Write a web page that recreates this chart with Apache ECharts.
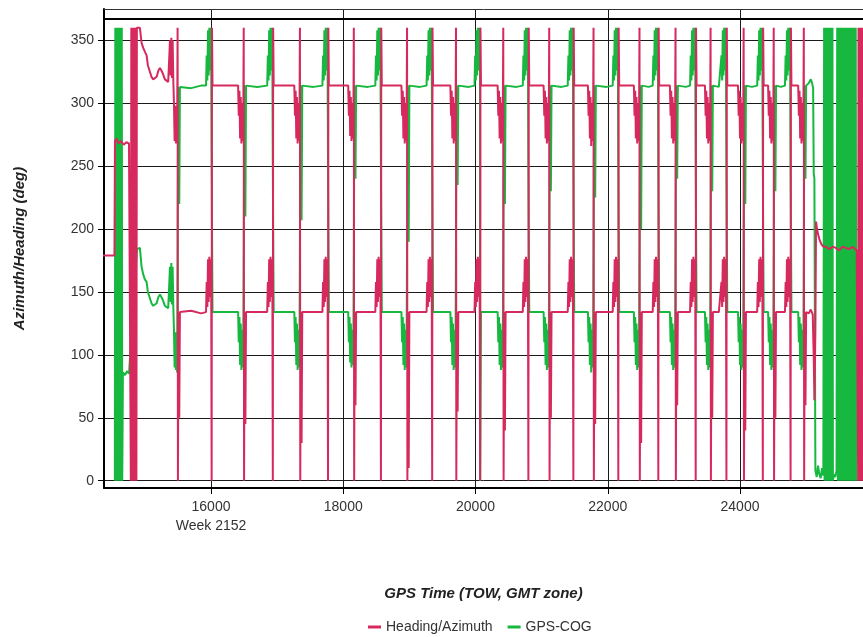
<!DOCTYPE html>
<html>
<head>
<meta charset="utf-8">
<script src="https://cdn.jsdelivr.net/npm/echarts@6.0.0/dist/echarts.min.js"></script>
<style>
html,body{margin:0;padding:0;background:#fff;}
#chart{width:863px;height:637px;}
</style>
</head>
<body>
<div id="chart"></div>
<script>
// ---- tick labels ----
const xTickValues = [16000, 18000, 20000, 22000, 24000];
const xTickLabels = ['16000\nWeek 2152', '18000', '20000', '22000', '24000'];
const yTickValues = [0, 50, 100, 150, 200, 250, 300, 350];
const seriesNames = ['Heading/Azimuth', 'GPS-COG'];

// ---- Heading/Azimuth [GPS TOW s, deg] ----
const headingData = [
[14364,179],[14540,179],[14548,270],[14570,272],[14600,268],[14640,270],[14680,267],[14720,269],[14760,268],[14782,268],
[14788,0],[14795,360],[14802,0],[14809,360],[14816,0],[14823,360],[14830,0],[14837,360],[14844,0],[14851,360],[14858,0],[14865,360],[14872,0],[14879,360],
[14925,360],[14950,348],[14975,344],[15000,341],[15026,338],[15046,330],[15076,325],[15100,321],[15126,319],[15150,318],[15178,321],[15205,326],[15228,328],[15250,326],[15269,324],[15303,319],[15330,318],[15353,317],
[15380,350],[15390,322],[15400,352],[15410,320],[15420,350],[15430,318],[15440,300],[15450,270],[15460,298],[15470,268],[15480,290],[15488,275],[15495,360],[15500,0],[15508,134],[15520,50],[15530,134],[15700,135],[15850,133],
[15925,134],[15935,158],[15945,138],[15955,176],[15965,142],[15975,178],[15985,146],[15995,176],[16003,160],[16010,0],[16015,360],[16023,314],[16045,315],
[16250,314],
[16410,314],[16420,290],[16430,310],[16440,272],[16450,305],[16460,268],[16470,300],[16480,270],[16488,285],[16495,360],[16500,0],[16508,134],[16520,45],[16530,134],
[16700,134],
[16850,134],[16860,158],[16870,138],[16880,176],[16890,142],[16900,178],[16910,146],[16920,176],[16928,160],[16935,0],[16940,360],[16948,314],[16970,315],
[17150,314],
[17260,314],[17270,290],[17280,310],[17290,272],[17300,305],[17310,268],[17320,300],[17330,270],[17338,285],[17345,360],[17350,0],[17358,134],[17370,30],[17380,134],
[17550,134],
[17685,134],[17695,158],[17705,138],[17715,176],[17725,142],[17735,178],[17745,146],[17755,176],[17763,160],[17770,0],[17775,360],[17783,314],[17805,315],
[17970,314],
[18075,314],[18085,290],[18095,310],[18105,274],[18115,305],[18125,270],[18135,300],[18145,272],[18153,285],[18160,360],[18165,0],[18173,134],[18185,60],[18195,134],
[18370,134],
[18485,134],[18495,158],[18505,138],[18515,176],[18525,142],[18535,178],[18545,146],[18555,176],[18563,160],[18570,0],[18575,360],[18583,314],[18605,315],
[18770,314],
[18880,314],[18890,290],[18900,310],[18910,272],[18920,305],[18930,268],[18940,300],[18950,270],[18958,285],[18965,360],[18970,0],[18978,134],[18990,10],[19000,134],
[19160,134],
[19260,134],[19270,158],[19280,138],[19290,176],[19300,142],[19310,178],[19320,146],[19330,176],[19338,160],[19345,0],[19350,360],[19358,314],[19380,315],
[19530,314],
[19620,314],[19630,290],[19640,310],[19650,272],[19660,305],[19670,268],[19680,300],[19690,270],[19698,285],[19705,360],[19710,0],[19718,134],[19730,55],[19740,134],
[19900,134],
[19985,134],[19995,158],[20005,138],[20015,176],[20025,142],[20035,178],[20045,146],[20055,176],[20063,160],[20070,0],[20075,360],[20083,314],[20105,315],
[20250,314],
[20335,314],[20345,290],[20355,310],[20365,272],[20375,305],[20385,268],[20395,300],[20405,270],[20413,285],[20420,360],[20425,0],[20433,134],[20445,40],[20455,134],
[20620,134],
[20715,134],[20725,158],[20735,138],[20745,176],[20755,142],[20765,178],[20775,146],[20785,176],[20793,160],[20800,0],[20805,360],[20813,314],[20835,315],
[20960,314],
[21030,314],[21040,290],[21050,310],[21060,272],[21070,305],[21080,268],[21090,300],[21100,270],[21108,285],[21115,360],[21120,0],[21128,134],[21140,50],[21150,134],
[21300,134],
[21395,134],[21405,158],[21415,138],[21425,176],[21435,142],[21445,178],[21455,146],[21465,176],[21473,160],[21480,0],[21485,360],[21493,314],[21515,315],
[21640,314],
[21700,314],[21710,290],[21720,310],[21730,272],[21740,305],[21750,266],[21760,300],[21770,270],[21778,285],[21785,360],[21790,0],[21798,134],[21810,45],[21820,134],
[21980,134],
[22075,134],[22085,158],[22095,138],[22105,176],[22115,142],[22125,178],[22135,146],[22145,176],[22153,160],[22160,0],[22165,360],[22173,314],[22195,315],
[22320,314],
[22395,314],[22405,290],[22415,310],[22425,272],[22435,305],[22445,268],[22455,300],[22465,270],[22473,285],[22480,360],[22485,0],[22493,134],[22505,30],[22515,134],
[22620,134],
[22680,134],[22690,158],[22700,138],[22710,176],[22720,142],[22730,178],[22740,146],[22750,176],[22758,160],[22765,0],[22770,360],[22778,314],[22800,315],
[22900,314],
[22940,314],[22950,290],[22960,310],[22970,272],[22980,305],[22990,268],[23000,300],[23010,270],[23018,285],[23025,360],[23030,0],[23038,134],[23050,60],[23060,134],
[23180,134],
[23245,134],[23255,158],[23265,138],[23275,176],[23285,142],[23295,178],[23305,146],[23315,176],[23323,160],[23330,0],[23335,360],[23343,314],[23365,315],
[23420,314],
[23470,314],[23480,290],[23490,310],[23500,272],[23510,305],[23520,268],[23530,300],[23540,270],[23548,285],[23555,360],[23560,0],[23568,134],[23580,50],[23590,134],
[23680,134],
[23710,134],[23720,158],[23730,138],[23740,176],[23750,142],[23760,178],[23770,146],[23780,176],[23788,160],[23795,0],[23800,360],[23808,314],[23830,315],
[23900,314],
[23970,314],[23980,290],[23990,310],[24000,272],[24010,305],[24020,268],[24030,300],[24040,270],[24048,285],[24055,360],[24060,0],[24068,134],[24080,40],[24090,134],
[24180,134],
[24260,134],[24270,158],[24280,138],[24290,176],[24300,142],[24310,178],[24320,146],[24330,176],[24338,160],[24345,0],[24350,360],[24358,314],[24380,315],
[24425,314],[24435,290],[24445,310],[24455,272],[24465,305],[24475,268],[24485,300],[24495,270],[24503,285],[24510,360],[24515,0],[24523,134],[24535,50],[24545,134],
[24620,134],
[24680,134],[24690,158],[24700,138],[24710,176],[24720,142],[24730,178],[24740,146],[24750,176],[24758,160],[24765,0],[24770,360],[24778,314],[24800,315],
[24840,314],
[24880,314],[24890,290],[24900,310],[24910,272],[24920,305],[24930,268],[24940,300],[24950,270],[24958,285],[24965,360],[24970,0],[24978,134],[24990,60],[25000,134],
[25040,133],[25070,136],[25100,132],[25115,98],[25125,64],[25140,120],[25150,206],[25165,200],[25180,196],[25200,192],[25230,188],[25260,186],[25300,186],[25350,184],[25400,186],[25450,185],[25500,183],[25550,186],[25600,185],[25650,184],[25700,186],[25765,183],[25787,0],
[25792,360],[25799,0],[25806,360],[25813,0],[25820,360],[25827,0],[25834,360],[25841,0],[25848,360],[25855,0],[25862,360],[25869,0]
];

// ---- GPS-COG [GPS TOW s, deg] ----
const cogData = [
[14546,0],[14553,360],[14560,0],[14567,360],[14574,0],[14581,360],[14588,0],[14595,360],[14602,0],[14609,360],[14616,0],[14623,360],[14630,0],[14637,360],[14644,0],[14651,360],[14658,0],[14668,86],[14700,84],[14730,87],[14760,85],[14780,86],
[14880,184],[14925,185],[14950,170],[14975,164],[15000,160],[15026,158],[15046,150],[15076,145],[15100,141],[15126,139],[15150,138],[15178,141],[15205,146],[15228,148],[15250,146],[15269,144],[15303,139],[15330,138],[15353,137],
[15380,170],[15390,142],[15400,173],[15410,140],[15420,170],[15430,138],[15440,120],[15450,90],[15460,118],[15470,88],[15480,110],[15488,86],[15505,313],[15520,220],[15530,313],[15700,312],[15850,314],
[15925,314],[15935,338],[15945,318],[15955,358],[15965,322],[15975,360],[15985,326],[15995,360],[16003,335],[16010,248],[16023,134],[16045,135],
[16250,134],
[16410,134],[16420,110],[16430,130],[16440,92],[16450,125],[16460,88],[16470,120],[16480,90],[16488,105],[16505,314],[16520,210],[16530,314],
[16700,313],
[16850,314],[16860,338],[16870,318],[16880,358],[16890,322],[16900,360],[16910,326],[16920,360],[16928,335],[16935,248],[16948,134],[16970,135],
[17150,134],
[17260,134],[17270,110],[17280,130],[17290,92],[17300,125],[17310,88],[17320,120],[17330,90],[17338,105],[17355,314],[17370,207],[17380,314],
[17550,313],
[17685,314],[17695,338],[17705,318],[17715,358],[17725,322],[17735,360],[17745,326],[17755,360],[17763,335],[17770,248],[17783,134],[17805,135],
[17970,134],
[18075,134],[18085,110],[18095,130],[18105,94],[18115,125],[18125,90],[18135,120],[18145,92],[18153,105],[18170,314],[18185,240],[18195,314],
[18370,313],
[18485,314],[18495,338],[18505,318],[18515,358],[18525,322],[18535,360],[18545,326],[18555,360],[18563,335],[18570,248],[18583,134],[18605,135],
[18770,134],
[18880,134],[18890,110],[18900,130],[18910,92],[18920,125],[18930,88],[18940,120],[18950,90],[18958,105],[18975,314],[18990,190],[19000,314],
[19160,313],
[19260,314],[19270,338],[19280,318],[19290,358],[19300,322],[19310,360],[19320,326],[19330,360],[19338,335],[19345,248],[19358,134],[19380,135],
[19530,134],
[19620,134],[19630,110],[19640,130],[19650,92],[19660,125],[19670,88],[19680,120],[19690,90],[19698,105],[19715,314],[19730,235],[19740,314],
[19900,313],
[19985,314],[19995,338],[20005,318],[20015,358],[20025,322],[20035,360],[20045,326],[20055,360],[20063,335],[20068,360],[20072,0],[20083,134],[20105,135],
[20250,134],
[20335,134],[20345,110],[20355,130],[20365,92],[20375,125],[20385,88],[20395,120],[20405,90],[20413,105],[20430,314],[20445,220],[20455,314],
[20620,313],
[20715,314],[20725,338],[20735,318],[20745,358],[20755,322],[20765,360],[20775,326],[20785,360],[20793,335],[20800,248],[20813,134],[20835,135],
[20960,134],
[21030,134],[21040,110],[21050,130],[21060,92],[21070,125],[21080,88],[21090,120],[21100,90],[21108,105],[21125,314],[21140,230],[21150,314],
[21300,313],
[21395,314],[21405,338],[21415,318],[21425,358],[21435,322],[21445,360],[21455,326],[21465,360],[21473,335],[21480,248],[21493,134],[21515,135],
[21640,134],
[21700,134],[21710,110],[21720,130],[21730,92],[21740,125],[21750,86],[21760,120],[21770,90],[21778,105],[21795,314],[21810,225],[21820,314],
[21980,313],
[22075,314],[22085,338],[22095,318],[22105,358],[22115,322],[22125,360],[22135,326],[22145,360],[22153,335],[22160,248],[22173,134],[22195,135],
[22320,134],
[22395,134],[22405,110],[22415,130],[22425,92],[22435,125],[22445,88],[22455,120],[22465,90],[22473,105],[22490,314],[22505,200],[22515,314],
[22620,313],
[22680,314],[22690,338],[22700,318],[22710,358],[22720,322],[22730,360],[22740,326],[22750,360],[22758,335],[22765,248],[22778,134],[22800,135],
[22900,134],
[22940,134],[22950,110],[22960,130],[22970,92],[22980,125],[22990,88],[23000,120],[23010,90],[23018,105],[23035,314],[23050,240],[23060,314],
[23180,313],
[23245,314],[23255,338],[23265,318],[23275,358],[23285,322],[23295,360],[23305,326],[23315,360],[23323,335],[23330,248],[23343,134],[23365,135],
[23420,134],
[23470,134],[23480,110],[23490,130],[23500,92],[23510,125],[23520,88],[23530,120],[23540,90],[23548,105],[23565,314],[23580,230],[23590,314],
[23680,313],
[23710,314],[23720,338],[23730,318],[23740,358],[23750,322],[23760,360],[23770,326],[23780,360],[23788,335],[23795,248],[23808,134],[23830,135],
[23900,134],
[23970,134],[23980,110],[23990,130],[24000,92],[24010,125],[24020,88],[24030,120],[24040,90],[24048,105],[24065,314],[24080,220],[24090,314],
[24180,313],
[24260,314],[24270,338],[24280,318],[24290,358],[24300,322],[24310,360],[24320,326],[24330,360],[24338,335],[24345,248],[24358,134],[24380,135],
[24425,134],[24435,110],[24445,130],[24455,92],[24465,125],[24475,88],[24485,120],[24495,90],[24503,105],[24520,314],[24535,230],[24545,314],
[24620,313],
[24680,314],[24690,338],[24700,318],[24710,358],[24720,322],[24730,360],[24740,326],[24750,360],[24758,335],[24765,248],[24778,134],[24800,135],
[24840,134],
[24880,134],[24890,110],[24900,130],[24910,92],[24920,125],[24930,88],[24940,120],[24950,90],[24958,105],[24975,314],[24990,240],[25000,314],
[25040,316],[25070,319],[25090,316],[25106,312],[25115,244],[25125,240],[25140,8],[25160,3],[25180,12],[25200,5],[25220,2],[25240,10],[25260,4],
[25272,360],[25279,0],[25286,360],[25293,0],[25300,360],[25307,0],[25314,360],[25321,0],[25328,360],[25335,0],[25342,360],[25349,0],[25356,360],[25363,0],[25370,360],[25377,0],[25384,360],[25391,0],[25398,360],[25405,0],
[25420,5],[25440,3],[25460,8],
[25470,360],[25480,0],[25490,360],[25500,0],[25510,360],[25520,0],[25530,360],[25540,0],[25550,360],[25560,0],[25570,360],[25580,0],[25590,360],[25600,0],[25610,360],[25620,0],[25630,360],[25640,0],[25650,360],[25660,0],[25670,360],[25680,0],[25690,360],[25700,0],[25710,360],[25720,0],[25730,360],[25740,0],[25750,360],[25760,0]
];

// frame lines at the top of the plot (deg values)
const frameLines = [367, 374.9];

const PINK = '#D62A5E';
const GREEN = '#16B83F';
const FONT = '"Liberation Sans", Arial, sans-serif';

const chart = echarts.init(document.getElementById('chart'), null, {renderer: 'canvas'});
chart.setOption({
  animation: false,
  backgroundColor: '#ffffff',
  grid: {left: 104, right: 0, top: 9, bottom: 149, containLabel: false},
  legend: {
    data: seriesNames,
    left: 363, top: 615,
    icon: 'rect', itemWidth: 13, itemHeight: 3, itemGap: 15,
    textStyle: {fontSize: 14, color: '#333', fontFamily: FONT}
  },
  xAxis: {
    type: 'value', min: 14382, max: 25860,
    name: 'GPS Time (TOW, GMT zone)', nameLocation: 'middle', nameGap: 98,
    nameTextStyle: {fontSize: 15, fontWeight: 'bold', fontStyle: 'italic', color: '#222', fontFamily: FONT},
    axisLine: {show: true, onZero: false, lineStyle: {color: '#000', width: 2}},
    axisTick: {show: true, length: 6, customValues: xTickValues, lineStyle: {color: '#000', width: 1}},
    axisLabel: {
      customValues: xTickValues, margin: 10, fontSize: 14, lineHeight: 19, color: '#333', fontFamily: FONT,
      formatter: function (v) { const i = xTickValues.indexOf(v); return i >= 0 ? xTickLabels[i] : ''; }
    },
    splitLine: {show: true, lineStyle: {color: '#1a1a1a', width: 1}}
  },
  yAxis: {
    type: 'value', min: -5.8, max: 374.9,
    name: 'Azimuth/Heading (deg)', nameLocation: 'middle', nameGap: 77, nameRotate: 90,
    nameTextStyle: {fontSize: 15, fontWeight: 'bold', fontStyle: 'italic', color: '#222', fontFamily: FONT},
    axisLine: {show: true, onZero: false, lineStyle: {color: '#000', width: 2}},
    axisTick: {show: true, length: 6, customValues: yTickValues, lineStyle: {color: '#000', width: 1}},
    axisLabel: {
      customValues: yTickValues, margin: 10, fontSize: 14, color: '#333', fontFamily: FONT,
      formatter: function (v) { return String(v); }
    },
    splitLine: {show: true, lineStyle: {color: '#1a1a1a', width: 1}}
  },
  series: [
    {
      name: 'GPS-COG', type: 'line', data: cogData, showSymbol: false, symbol: 'none',
      lineStyle: {color: GREEN, width: 2}, itemStyle: {color: GREEN}, z: 2
    },
    {
      name: 'Heading/Azimuth', type: 'line', data: headingData, showSymbol: false, symbol: 'none',
      lineStyle: {color: PINK, width: 2}, itemStyle: {color: PINK}, z: 3,
      markLine: {
        silent: true, symbol: 'none', label: {show: false}, animation: false,
        data: [
          {yAxis: frameLines[0], lineStyle: {color: '#000', width: 2, type: 'solid'}},
          {yAxis: frameLines[1], lineStyle: {color: '#333', width: 1, type: 'solid'}}
        ]
      }
    }
  ]
});
</script>
</body>
</html>
